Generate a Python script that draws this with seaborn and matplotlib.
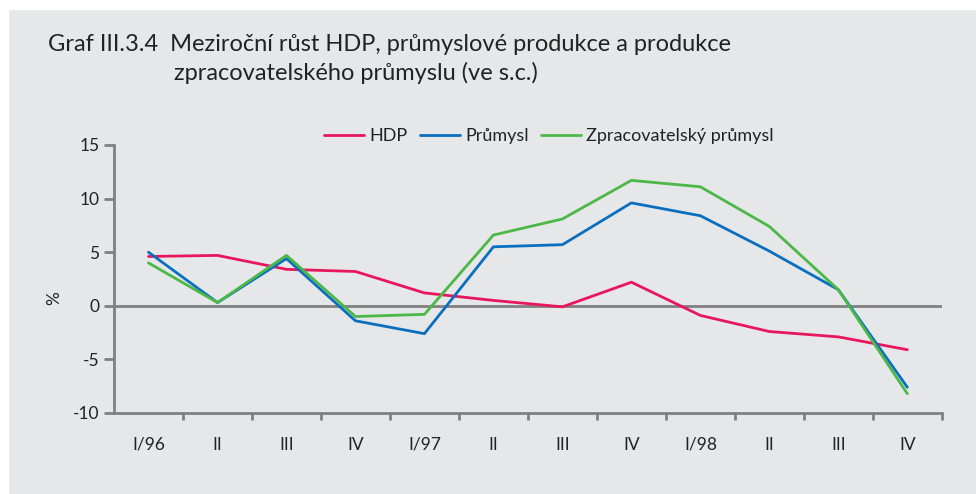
import numpy as np
import pandas as pd
import matplotlib.pyplot as plt
import seaborn as sns

# ctvrtleti 1996-1998
obdobi = ["I/96", "II", "III", "IV", "I/97", "II", "III", "IV", "I/98", "II", "III", "IV"]
hdp = [4.6, 4.7, 3.4, 3.2, 1.2, 0.5, -0.1, 2.2, -0.9, -2.4, -2.9, -4.1]
prumysl = [5.0, 0.3, 4.4, -1.4, -2.6, 5.5, 5.7, 9.6, 8.4, 5.1, 1.5, -7.6]
zprac = [4.0, 0.3, 4.7, -1.0, -0.8, 6.6, 8.1, 11.7, 11.1, 7.4, 1.5, -8.2]

nazvy = ["HDP", "Průmysl", "Zpracovatelský průmysl"]
barvy = ["#e8175d", "#0b6fbf", "#4cb848"]

idx = list(range(len(obdobi)))
df = pd.DataFrame({
    "x": idx * 3,
    "hodnota": hdp + prumysl + zprac,
    "rada": [nazvy[0]] * 12 + [nazvy[1]] * 12 + [nazvy[2]] * 12,
})

bg = "#e6e7e8"
seda = "#808080"
sns.set_theme(style="white", rc={"axes.facecolor": bg, "figure.facecolor": bg})
plt.rcParams["font.family"] = ["Lato", "DejaVu Sans"]

fig = plt.figure(figsize=(9.76, 4.94), dpi=100)
# bily okraj nahore a vlevo
fig.patches.append(plt.Rectangle((0, 1 - 9 / 494), 1, 9 / 494, transform=fig.transFigure,
                                 color="white", zorder=0))
fig.patches.append(plt.Rectangle((0, 0), 8 / 976, 1, transform=fig.transFigure,
                                 color="white", zorder=0))

ax = fig.add_axes([0.1168, 0.164, 0.965 - 0.1168, 0.7065 - 0.164])

sns.lineplot(data=df, x="x", y="hodnota", hue="rada", palette=barvy,
             hue_order=nazvy, linewidth=2, ax=ax, legend=False)

ax.axhline(0, color=seda, linewidth=2, zorder=1)
ax.set_xlim(-0.5, 11.5)
ax.set_ylim(-10, 15)
ax.set_yticks([-10, -5, 0, 5, 10, 15])
ax.set_yticklabels(["-10", "-5", "0", "5", "10", "15"])
ax.set_xticks(idx)
ax.set_xticklabels(obdobi)
ax.set_xticks(np.arange(0.5, 12, 1), minor=True)
ax.tick_params(axis="x", which="both", direction="out", length=5, width=2,
               color=seda, labelsize=12.5, pad=12, labelcolor="#222222")
ax.tick_params(axis="x", which="minor", bottom=True)
ax.tick_params(axis="y", direction="out", length=7, width=2, color=seda,
               labelsize=12.5, labelcolor="#222222", left=True)
ax.set_xlabel("")
ax.set_ylabel("%", fontsize=12.5, color="#222222")
ax.yaxis.set_label_coords(-0.063, 0.43)

for s in ["top", "right"]:
    ax.spines[s].set_visible(False)
for s in ["left", "bottom"]:
    ax.spines[s].set_color(seda)
    ax.spines[s].set_linewidth(2)

handles = [plt.Line2D([], [], color=c, linewidth=2) for c in barvy]
fig.legend(handles, nazvy, loc="center", bbox_to_anchor=(0.5625, 0.725), ncol=3,
           frameon=False, fontsize=13, handlelength=2.2, handletextpad=0.3,
           columnspacing=0.7, labelcolor="#222222")

fig.text(0.049, 0.909, "Graf III.3.4  Meziroční růst HDP, průmyslové produkce a produkce",
         fontsize=17, color="#222222", va="center")
fig.text(0.178, 0.852, "zpracovatelského průmyslu (ve s.c.)",
         fontsize=17, color="#222222", va="center")

fig.savefig("out.png", dpi=100, facecolor=bg)
